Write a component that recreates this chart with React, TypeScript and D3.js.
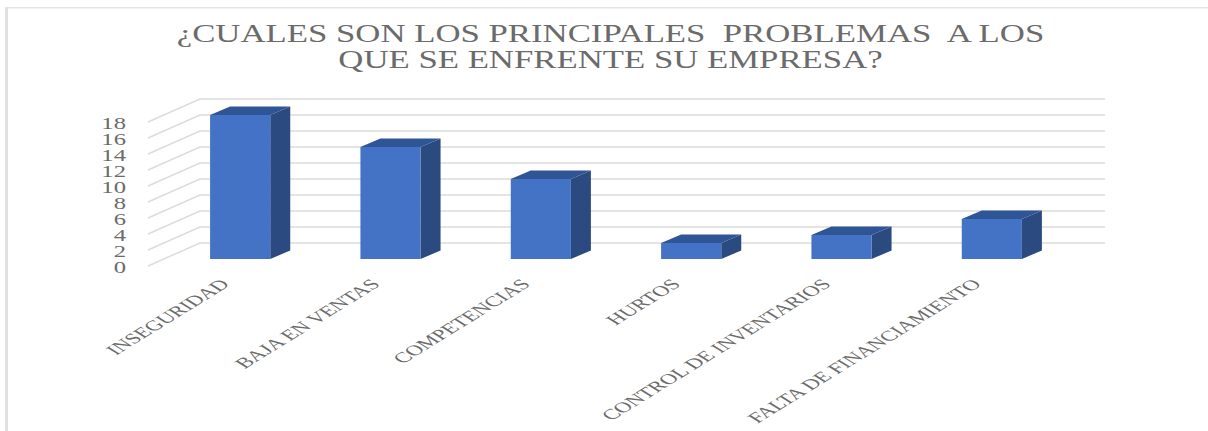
import { useEffect, useRef } from "react";
import * as d3 from "d3";

const categories = [
  "INSEGURIDAD",
  "BAJA EN VENTAS",
  "COMPETENCIAS",
  "HURTOS",
  "CONTROL DE INVENTARIOS",
  "FALTA DE FINANCIAMIENTO",
];
const values = [18, 14, 10, 2, 3, 5];
const yTicks = [0, 2, 4, 6, 8, 10, 12, 14, 16, 18];
const titleLines = [
  "¿CUALES SON LOS PRINCIPALES  PROBLEMAS  A LOS",
  "QUE SE ENFRENTE SU EMPRESA?",
];

const width = 1208;
const height = 431;
const serif = "'Liberation Serif', serif";
const textColor = "#6b6b6b";

const App = () => {
  const ref = useRef<SVGSVGElement | null>(null);

  useEffect(() => {
    if (!ref.current) return;
    const svg = d3.select(ref.current);
    svg.selectAll("*").remove();

    // page frame, only top and left edges show
    svg.append("rect").attr("x", 5).attr("y", 7).attr("width", 3).attr("height", height - 7).attr("fill", "#e1e1e1");
    svg.append("rect").attr("x", 5).attr("y", 7).attr("width", width - 5).attr("height", 1.5).attr("fill", "#e4e4e4");

    // title, stretched sideways like the source image
    titleLines.forEach((line, i) => {
      svg.append("text")
        .attr("transform", `translate(610.5,${42 + i * 26}) scale(1.39,1)`)
        .attr("text-anchor", "middle")
        .attr("font-family", serif)
        .attr("font-size", 25)
        .attr("fill", textColor)
        .style("white-space", "pre")
        .text(line);
    });

    const y = d3.scaleLinear().domain([0, 18]).range([243, 99]);
    const wallX: [number, number] = [200, 1105];
    const depth = { floorX: -52, floorY: 23 };

    // back wall and side wall gridlines
    const grid = svg.append("g").attr("stroke", "#dcdcdc").attr("stroke-width", 1.5).attr("fill", "none");
    yTicks.forEach(t => {
      grid.append("path").attr("d", d3.line()([
        [wallX[0] + depth.floorX, y(t) + depth.floorY],
        [wallX[0], y(t)],
        [wallX[1], y(t)],
      ]));
    });

    // y axis labels
    const axisScale = d3.scaleLinear().domain([0, 18]).range([266.5, 122.5]);
    const axis = svg.append("g")
      .attr("transform", "translate(126,0)")
      .call(d3.axisLeft(axisScale).tickValues(yTicks).tickSize(0).tickPadding(0));
    axis.select(".domain").remove();
    axis.selectAll<SVGTextElement, number>("text")
      .attr("font-family", serif)
      .attr("font-size", 17)
      .attr("fill", textColor)
      .attr("x", 0)
      .attr("dy", "0.33em")
      .attr("transform", "scale(1.45,1)");

    // bars
    const x = d3.scaleBand<string>()
      .domain(categories)
      .range([165, 1067])
      .paddingInner(0.6)
      .paddingOuter(0.3);
    const barY = d3.scaleLinear().domain([0, 18]).range([259, 115]);
    const dx = 20;
    const dy = -8.5;
    const bw = x.bandwidth();

    const bars = svg.append("g")
      .selectAll("g")
      .data(categories)
      .join("g")
      .attr("transform", d => `translate(${x(d)},0)`);

    bars.append("path")
      .attr("fill", "#2a4a80")
      .attr("d", (_, i) => d3.line()([
        [bw, barY(values[i])],
        [bw + dx, barY(values[i]) + dy],
        [bw + dx, barY(0) + dy],
        [bw, barY(0)],
      ]) + "Z");
    bars.append("path")
      .attr("fill", "#2f5597")
      .attr("d", (_, i) => d3.line()([
        [0, barY(values[i])],
        [dx, barY(values[i]) + dy],
        [bw + dx, barY(values[i]) + dy],
        [bw, barY(values[i])],
      ]) + "Z");
    bars.append("rect")
      .attr("fill", "#4472c4")
      .attr("y", (_, i) => barY(values[i]))
      .attr("width", bw)
      .attr("height", (_, i) => barY(0) - barY(values[i]));

    // category labels: rotated, then stretched with the rest of the image
    svg.append("g")
      .selectAll("text")
      .data(categories)
      .join("text")
      .attr("transform", d => `translate(${x(d)! + bw / 2 - 9.5},285) scale(1.62,1) rotate(-45)`)
      .attr("text-anchor", "end")
      .attr("font-family", serif)
      .attr("font-size", 14.65)
      .attr("fill", textColor)
      .text(d => d);
  }, []);

  return <svg ref={ref} width={width} height={height} style={{ position: "absolute", left: 0, top: 0 }} />;
};

export default App;
